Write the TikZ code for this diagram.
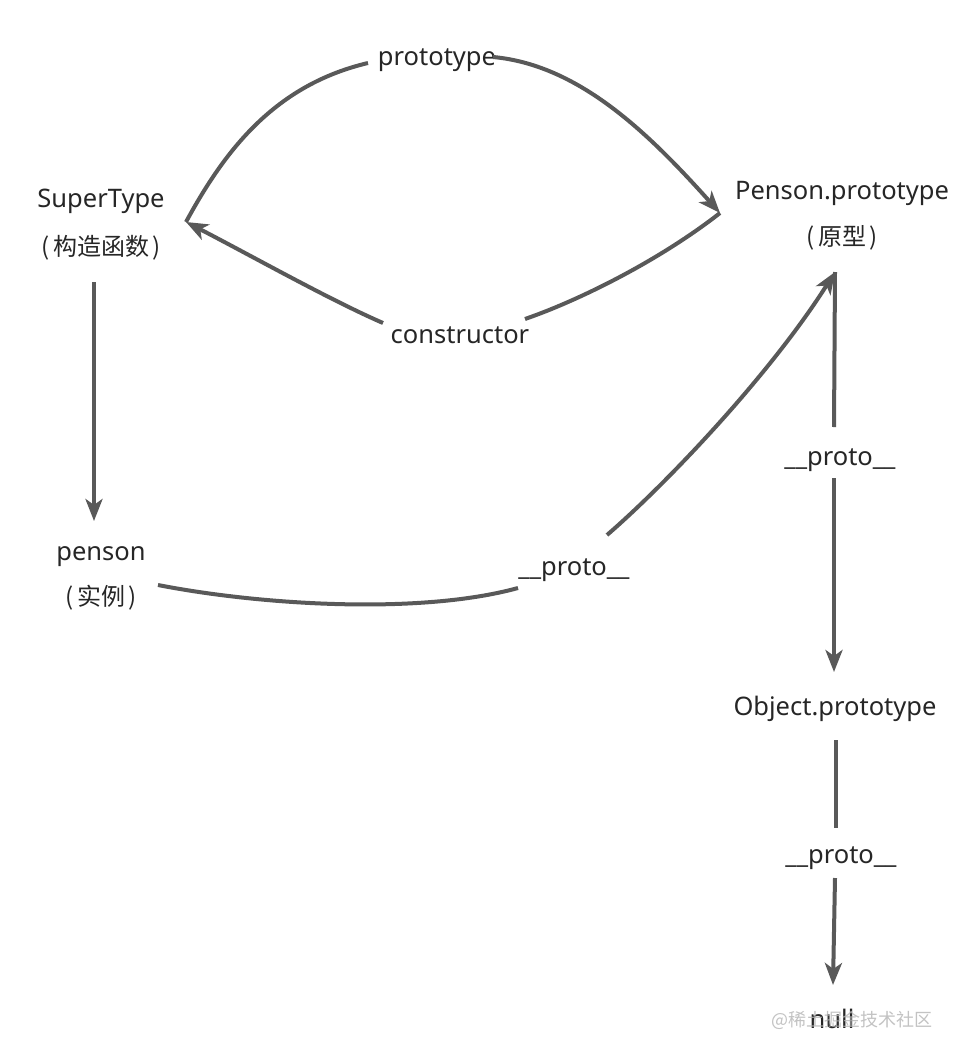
\documentclass[tikz,border=0pt]{standalone}
\usepackage{fontspec}
\setmainfont{Noto Sans}
\newfontfamily\cjk{Noto Sans CJK SC}
\usetikzlibrary{arrows.meta}
\definecolor{ln}{HTML}{595959}
\definecolor{tx}{HTML}{262626}
\definecolor{wm}{HTML}{B4B4B4}
\begin{document}
\begin{tikzpicture}[x=1pt,y=-1pt,
  lbl/.style={text=tx,font=\fontsize{25.5}{30}\selectfont,inner sep=0pt,anchor=base},
  zh/.style={text=tx,font=\fontsize{24}{30}\selectfont\cjk,inner sep=0pt},
  link/.style={draw=ln,line width=4pt},
  arr/.style={link,-{Stealth[length=22pt,width=17pt,inset=6pt]}}]
\useasboundingbox[fill=white] (0,0) rectangle (960,1055);

% text nodes
\node[lbl] (st)   at (101,207) {SuperType};
\node[zh]  (stz)  at (101,248) {(\kern3pt构造函数\kern3pt)};
\node[lbl] (pp)   at (842,199) {Penson.prototype};
\node[zh]  (ppz)  at (842,238) {(\kern3pt原型\kern3pt)};
\node[lbl] (ps)   at (101,560) {penson};
\node[zh]  (psz)  at (101,598) {(\kern3pt实例\kern3pt)};
\node[lbl] (op)   at (835,715) {Object.prototype};
\node[lbl] (nul)  at (832,1028) {null};
\node[lbl] (lprot) at (437,65) {prototype};
\node[lbl] (lcons) at (460,343) {constructor};
\node[lbl] (lpr1) at (574,575) {\_\_proto\_\_};
\node[lbl] (lpr2) at (840,465) {\_\_proto\_\_};
\node[lbl] (lpr3) at (841,863) {\_\_proto\_\_};
\node[text=wm,opacity=0.8,font=\fontsize{18}{20}\selectfont\cjk,inner sep=0pt,anchor=base] (wmk) at (852,1026) {@稀土掘金技术社区};

% anchor points of connectors
\coordinate (stR)  at (186,222);
\coordinate (ppL)  at (720,213);
\coordinate (ppB)  at (835,272);
\coordinate (stB)  at (94,282);
\coordinate (psT)  at (94,521);
\coordinate (psR)  at (158,585);
\coordinate (protL) at (368,63);
\coordinate (protR) at (493,57);
\coordinate (consL) at (383,323);
\coordinate (consR) at (525,319);
\coordinate (pr1L) at (518,588);
\coordinate (pr1R) at (607,535);
\coordinate (pr2T) at (834,427);
\coordinate (pr2B) at (834,478);
\coordinate (opT)  at (834,672);
\coordinate (opB)  at (836,740);
\coordinate (pr3T) at (836,828);
\coordinate (pr3B) at (835,878);
\coordinate (nulT) at (833,985);

% prototype: SuperType -> Penson.prototype
\draw[link] (stR) .. controls (225,150) and (275,85) .. (protL);
\draw[arr] (protR) .. controls (580,65) and (650,135) .. (ppL);
% constructor: Penson.prototype -> SuperType
\draw[link] (ppL) .. controls (660,260) and (580,300) .. (consR);
\draw[arr] (consL) .. controls (330,300) and (250,255) .. (stR);
% SuperType -> penson
\draw[arr] (stB) -- (psT);
% penson __proto__ -> Penson.prototype
\draw[link] (psR) .. controls (260,605) and (420,615) .. (pr1L);
\draw[arr] (pr1R) .. controls (665,485) and (770,375) .. (ppB);
% Penson.prototype __proto__ -> Object.prototype
\draw[link] (ppB) -- (pr2T);
\draw[arr] (pr2B) -- (opT);
% Object.prototype __proto__ -> null
\draw[link] (opB) -- (pr3T);
\draw[arr] (pr3B) -- (nulT);
\end{tikzpicture}
\end{document}
